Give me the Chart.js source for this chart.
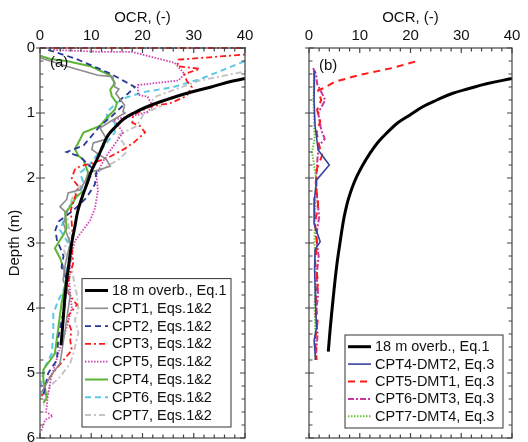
<!DOCTYPE html>
<html>
<head>
<meta charset="utf-8">
<script src="https://cdn.jsdelivr.net/npm/chart.js@4"></script>
<style>
  html, body { margin: 0; padding: 0; background: #fff; }
  #wrap { position: relative; width: 528px; height: 442px; }
  .panel { position: absolute; top: 0; width: 264px; height: 442px; }
</style>
</head>
<body>
<div id="wrap">
  <div class="panel" style="left:0"><canvas id="graphicA" width="264" height="442"></canvas></div>
  <div class="panel" style="left:264px"><canvas id="graphicB" width="264" height="442"></canvas></div>
</div>
<script>
// values: [OCR, depth (m)]
const overb18a = [[40,0.47],[37,0.52],[33.4,0.6],[28.5,0.7],[24.5,0.8],[21,0.9],[18.3,1.0],[16.2,1.1],[14.9,1.2],[13.3,1.34],[12.3,1.5],[11.2,1.7],[10,1.9],[9.3,2.06],[8.2,2.3],[7.4,2.5],[6.8,2.75],[6.2,3.0],[5.5,3.4],[4.9,3.8],[4.5,4.2],[4.1,4.57]];
const overb18b = [[40,0.47],[35,0.55],[31.7,0.62],[28.2,0.7],[25.2,0.8],[22.5,0.9],[19.9,1.03],[17.5,1.15],[15.3,1.31],[13.6,1.45],[12,1.62],[10.6,1.8],[9.4,1.98],[8.5,2.15],[7.7,2.34],[7.2,2.5],[6.8,2.65],[6.1,3.0],[5.4,3.39],[4.7,3.9],[4.2,4.3],[3.8,4.67]];

const cpt1 = [[0,0.15],[5.5,0.29],[11.3,0.42],[14.2,0.44],[14.6,0.6],[15.4,0.63],[14.8,0.7],[16.5,0.88],[16.2,0.98],[16.6,1.0],[13.7,1.13],[11.7,1.23],[13,1.4],[10.4,1.46],[10.1,1.56],[13,1.72],[13.7,1.82],[11.7,1.87],[9.4,1.92],[8.8,2.05],[7.8,2.18],[5.5,2.23],[5.2,2.33],[3.9,2.44],[5.2,2.54],[4.6,2.7],[5.2,2.85],[5.9,3.0],[5.0,3.3],[4.5,3.57],[5.9,3.8],[4.9,4.34],[3.9,4.85],[2,5.06],[0.3,5.3]];
const cpt2 = [[1.6,0.03],[6.8,0.16],[11.3,0.31],[13.9,0.4],[18.5,0.6],[17.2,0.7],[15.6,0.8],[16,0.9],[14,1.05],[11.7,1.2],[8.5,1.5],[5.2,1.6],[7.8,1.67],[9.5,1.8],[11,1.9],[10.7,2.1],[9.1,2.3],[6.5,2.5],[3.6,2.67],[3,2.8],[3.3,2.95],[4.6,3.2],[4.2,3.37],[5.2,3.57],[4.9,3.93],[3.6,4.44],[3.3,4.8],[1.6,5.0],[0.6,5.37]];
const cpt3 = [[0,0],[44,0],[40,0.1],[27,0.18],[26.8,0.28],[31.2,0.32],[28.2,0.4],[28.6,0.5],[29.6,0.6],[28.6,0.74],[25.4,0.85],[21.5,0.9],[18.2,1.03],[18,1.15],[19.5,1.2],[20.5,1.3],[18.2,1.46],[16.3,1.56],[13.7,1.67],[10.4,1.77],[7.8,1.82],[6.8,1.87],[6.2,2.0],[7.5,2.13],[6.8,2.3],[6,2.5],[6.3,2.8],[6.2,3.1],[6.5,3.3],[5.5,3.6],[5.5,3.77],[7.2,3.95],[5.2,4.15],[6.1,4.34],[5.9,4.5],[6.2,4.65],[4.6,4.8],[2.5,5.0],[1.2,5.15],[0.4,5.35]];
const cpt5 = [[2.6,0.03],[12.5,0.06],[18,0.06],[26.3,0.23],[28.2,0.4],[27,0.5],[19.1,0.57],[19.1,0.72],[21,0.75],[22,0.9],[21,0.98],[19,1.03],[14.4,1.1],[16.2,1.3],[12.6,1.7],[11,1.95],[11.3,2.2],[10.7,2.47],[9.8,2.65],[8.1,2.83],[6.8,2.97],[5.9,3.28],[5.7,3.6],[6.2,4.0],[5.2,4.3],[4.2,4.54],[2.2,5.06],[1.5,5.37],[1.2,5.6],[2.5,5.66],[1.0,5.72],[0.2,5.9]];
const cpt4 = [[0,0.12],[2,0.17],[5.2,0.2],[9.8,0.28],[13.7,0.42],[14.6,0.54],[13.7,0.64],[14,0.74],[15,0.85],[14.6,0.95],[13.3,1.05],[11.7,1.2],[8.5,1.3],[7.2,1.5],[6.8,1.55],[7.5,1.66],[8.5,1.72],[9.4,1.92],[9.1,2.03],[8.8,2.18],[7.2,2.28],[5.9,2.44],[4.9,2.54],[5.2,2.77],[4.6,2.87],[2.9,3.08],[3.9,3.23],[5.2,3.52],[4.2,3.93],[3.6,4.29],[2.9,4.7],[0.65,4.95],[0.65,5.1],[1.3,5.38],[0.65,5.46]];
const cpt6 = [[0,0],[44,0],[40,0.2],[31.2,0.48],[26,0.6],[20.2,0.68],[16.9,0.76],[15,0.84],[13.3,0.97],[13,1.05],[14.6,1.15],[14.6,1.3],[13,1.46],[11,1.66],[9.4,1.82],[7.8,1.92],[8.5,2.08],[7.8,2.23],[6.5,2.33],[5.2,2.54],[3.9,2.8],[5.5,3.0],[6.2,3.25],[5.2,3.4],[4.9,3.67],[3.6,3.88],[2.6,4.08],[2.6,4.38],[2.3,4.7],[1,4.9],[0.3,5.1],[0.3,5.4]];
const cpt7 = [[42,0.33],[31.2,0.5],[22.8,0.74],[21.5,0.84],[23.4,0.9],[22,0.95],[20.2,1.02],[18.9,1.2],[15,1.35],[16.3,1.46],[16.9,1.6],[15.3,1.72],[13,1.82],[11,1.92],[9.1,2.03],[7.2,2.18],[6.2,2.33],[5.2,2.54],[5.9,2.9],[4.6,3.1],[6.2,3.4],[6.8,3.66],[7.2,3.8],[7.5,4.03],[6.8,4.18],[7.5,4.38],[6.5,4.7],[5.9,4.85],[3.9,5.06],[2,5.2],[0.7,5.5]];

const dmt2 = [[1.1,0.35],[1.0,0.8],[1.2,1.2],[1.8,1.57],[4.0,1.8],[1.5,2.03],[1.1,2.3],[1.0,2.7],[2.2,2.98],[1.2,3.1],[1.1,3.4],[1.2,3.66],[1.3,4.0],[1.5,4.3],[1.0,4.5],[1.3,4.8]];
const dmt1 = [[20.9,0.21],[16.3,0.31],[9.7,0.42],[5.1,0.52],[2.8,0.62],[1.8,0.65],[2.4,0.8],[1.6,0.95],[2.2,1.13],[1.5,1.3],[2.0,1.5],[2.6,1.65],[1.6,1.85],[1.3,2.1],[1.8,2.4],[1.2,2.7],[1.6,3.0],[1.2,3.3],[1.8,3.6],[1.3,3.9],[1.7,4.2],[1.2,4.5],[1.5,4.8]];
const dmt3 = [[0.8,0.31],[1.4,0.4],[1.6,0.55],[3.2,0.8],[1.8,1.0],[2.4,1.26],[3.1,1.4],[2.0,1.5],[1.7,1.67],[1.4,2.0],[1.6,2.3],[2.0,2.6],[1.4,2.9],[1.9,3.2],[1.5,3.5],[1.8,3.8],[1.3,4.1],[1.7,4.4],[1.3,4.8]];
const dmt4 = [[1.0,0.35],[0.9,0.8],[1.1,1.4],[0.6,1.6],[1.4,2.0],[1.2,2.5],[1.1,3.0],[1.3,3.5],[1.1,4.0],[1.3,4.5],[1.2,4.8]];

const ocrTicks = [0, 10, 20, 30, 40];
const depthTicks = [0, 1, 2, 3, 4, 5, 6];

Chart.defaults.font.family = '"Liberation Sans", Arial, sans-serif';
Chart.defaults.color = '#111';

const pts = arr => arr.map(p => ({ x: p[0], y: p[1] }));

function line(label, arr, color, width, dash, tension) {
  return {
    label: label,
    data: pts(arr),
    showLine: true,
    borderColor: color,
    backgroundColor: color,
    borderWidth: width,
    borderDash: dash,
    tension: tension || 0,
    pointRadius: 0,
    fill: false,
    clip: 1
  };
}

// frame, inward ticks, panel tag and boxed legend
const frame = {
  id: 'frame',
  afterDraw(chart, args, opts) {
    const { ctx, chartArea: a } = chart;
    const xs = chart.scales.x, ys = chart.scales.y;
    ctx.save();
    ctx.strokeStyle = '#444';
    ctx.lineWidth = 1.2;
    ctx.setLineDash([]);
    ctx.strokeRect(a.left, a.top, a.right - a.left, a.bottom - a.top);
    ctx.beginPath();
    for (let v = 0; v <= 40.001; v += 2) {
      const px = xs.getPixelForValue(v);
      const len = v % 10 === 0 ? 5 : 3.5;
      ctx.moveTo(px, a.top); ctx.lineTo(px, a.top + len);
      ctx.moveTo(px, a.bottom); ctx.lineTo(px, a.bottom - len);
    }
    for (let i = 0; i <= 30; i++) {
      const v = i * 0.2;
      const py = ys.getPixelForValue(v);
      const major = i % 5 === 0;
      const len = major ? 5 : 3.5;
      ctx.moveTo(a.left - (major ? 4 : 0), py); ctx.lineTo(a.left + len, py);
      ctx.moveTo(a.right, py); ctx.lineTo(a.right - len, py);
    }
    ctx.stroke();

    ctx.fillStyle = '#111';
    ctx.font = '15px "Liberation Sans", Arial, sans-serif';
    ctx.textBaseline = 'middle';
    ctx.fillText(opts.tag, a.left + 10, a.top + opts.tagY);

    const sets = chart.data.datasets;
    const L = opts.legend;
    const h = sets.length * L.row + 6;
    const x0 = a.left + L.left, x1 = a.right - L.right;
    const y1 = a.bottom - L.bottom, y0 = y1 - h;
    ctx.fillStyle = '#fff';
    ctx.fillRect(x0, y0, x1 - x0, h);
    ctx.strokeStyle = '#333';
    ctx.lineWidth = 1;
    ctx.strokeRect(x0, y0, x1 - x0, h);
    ctx.font = '14.5px "Liberation Sans", Arial, sans-serif';
    sets.forEach((ds, i) => {
      const y = y0 + 3 + L.row * (i + 0.5);
      ctx.strokeStyle = ds.borderColor;
      ctx.lineWidth = ds.borderWidth;
      ctx.setLineDash(ds.borderDash || []);
      ctx.beginPath();
      ctx.moveTo(x0 + 3, y); ctx.lineTo(x0 + 26, y);
      ctx.stroke();
      ctx.setLineDash([]);
      ctx.fillStyle = '#111';
      ctx.fillText(ds.label, x0 + 30, y + 0.5);
    });
    ctx.restore();
  }
};

function axes(showDepth) {
  return {
    x: {
      type: 'linear', position: 'top', min: 0, max: 40,
      afterBuildTicks: s => { s.ticks = ocrTicks.map(v => ({ value: v })); },
      ticks: { font: { size: 15 }, padding: 3, color: '#111', maxRotation: 0 },
      grid: { display: false, drawTicks: false },
      border: { display: false },
      title: { display: true, text: 'OCR, (-)', font: { size: 15 }, color: '#111', padding: { top: 9, bottom: 0 } },
      afterFit: s => { s.height = 48; s.paddingLeft = 0; s.paddingRight = 0; }
    },
    y: {
      type: 'linear', reverse: true, min: 0, max: 6,
      afterBuildTicks: s => { s.ticks = depthTicks.map(v => ({ value: v })); },
      ticks: { display: showDepth, font: { size: 15 }, padding: 5, color: '#111' },
      grid: { display: false, drawTicks: false },
      border: { display: false },
      title: { display: showDepth, text: 'Depth (m)', font: { size: 15 }, color: '#111', padding: { top: 6, bottom: 0 } },
      afterFit: s => { s.width = showDepth ? 40 : 45; s.paddingTop = 0; s.paddingBottom = 0; }
    }
  };
}

new Chart(document.getElementById('graphicA'), {
  type: 'scatter',
  data: {
    datasets: [
      line('18 m overb., Eq.1', overb18a, '#000000', 3, [], 0.4),
      line('CPT1, Eqs.1&2', cpt1, '#8c8c8c', 1.6, []),
      line('CPT2, Eqs.1&2', cpt2, '#2b3896', 1.8, [6, 4]),
      line('CPT3, Eqs.1&2', cpt3, '#ff1a1a', 1.8, [6, 3, 2, 3]),
      line('CPT5, Eqs.1&2', cpt5, '#d040b0', 1.8, [1.5, 1.5]),
      line('CPT4, Eqs.1&2', cpt4, '#5db534', 2, []),
      line('CPT6, Eqs.1&2', cpt6, '#5cc8e6', 2, [6, 4]),
      line('CPT7, Eqs.1&2', cpt7, '#c4c4c4', 2, [6, 3, 2, 3])
    ]
  },
  options: {
    responsive: false,
    animation: false,
    layout: { padding: { left: 0, right: 19, top: 0, bottom: 4 } },
    plugins: {
      legend: { display: false },
      tooltip: { enabled: false },
      frame: { tag: '(a)', tagY: 15, legend: { left: 42, right: 14, bottom: 11, row: 17.8 } }
    },
    scales: axes(true)
  },
  plugins: [frame]
});

new Chart(document.getElementById('graphicB'), {
  type: 'scatter',
  data: {
    datasets: [
      line('18 m overb., Eq.1', overb18b, '#000000', 3, [], 0.4),
      line('CPT4-DMT2, Eq.3', dmt2, '#3a44a0', 1.6, []),
      line('CPT5-DMT1, Eq.3', dmt1, '#ff1a1a', 2, [7, 5]),
      line('CPT6-DMT3, Eq.3', dmt3, '#c8389e', 2, [6, 2, 2, 2]),
      line('CPT7-DMT4, Eq.3', dmt4, '#66c832', 2, [1.5, 1.5])
    ]
  },
  options: {
    responsive: false,
    animation: false,
    layout: { padding: { left: 0, right: 16, top: 0, bottom: 4 } },
    plugins: {
      legend: { display: false },
      tooltip: { enabled: false },
      frame: { tag: '(b)', tagY: 18, legend: { left: 36, right: 9, bottom: 10, row: 17.4 } }
    },
    scales: axes(false)
  },
  plugins: [frame]
});
</script>
</body>
</html>
